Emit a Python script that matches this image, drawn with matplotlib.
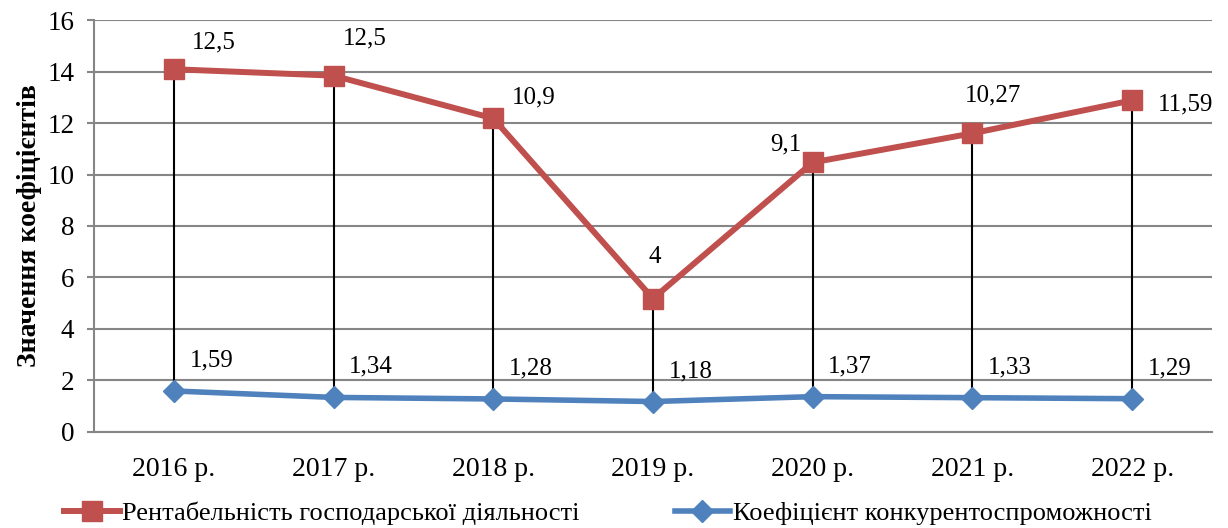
import numpy as np
import matplotlib
matplotlib.use("Agg")
import matplotlib.pyplot as plt

years = ["2016 р.", "2017 р.", "2018 р.", "2019 р.", "2020 р.", "2021 р.", "2022 р."]
profitability = [12.5, 12.5, 10.9, 4, 9.1, 10.27, 11.59]
competitiveness = [1.59, 1.34, 1.28, 1.18, 1.37, 1.33, 1.29]
profit_labels = ["12,5", "12,5", "10,9", "4", "9,1", "10,27", "11,59"]
comp_labels = ["1,59", "1,34", "1,28", "1,18", "1,37", "1,33", "1,29"]

# label offsets in pixels (dx, dy) for the red series, set by hand
red_offsets = [(40, 27), (31, 37), (40, 21), (2, 42), (-27, 18), (21, 38), (53, -4)]

RED = "#C0504D"
BLUE = "#4F81BD"
GRID = "#868686"

plt.rcParams["font.family"] = ["Liberation Serif", "DejaVu Serif"]

fig = plt.figure(figsize=(12.28, 5.28), dpi=100)
ax = fig.add_axes([0.0765, 0.182, 0.9105, 0.780])

x = np.arange(len(years))
comp = np.array(competitiveness)
stacked = comp + np.array(profitability)  # stacked line chart

ax.vlines(x, comp, stacked, colors="black", linewidth=1.5, zorder=2)
ax.plot(x, stacked, color=RED, linewidth=4.3, marker="s", markersize=14,
        label="Рентабельність господарської діяльності", zorder=3)
ax.plot(x, comp, color=BLUE, linewidth=4, marker="D", markersize=11,
        label="Коефіцієнт конкурентоспроможності", zorder=3)

for xi, yi, txt, (dx, dy) in zip(x, stacked, profit_labels, red_offsets):
    ax.annotate(txt, (xi, yi), xytext=(dx * 0.72, dy * 0.72), textcoords="offset points",
                ha="center", va="center", fontsize=18)
for xi, yi, txt in zip(x, comp, comp_labels):
    ax.annotate(txt, (xi, yi), xytext=(27, 22), textcoords="offset points",
                ha="center", va="center", fontsize=18)

ax.set_xlim(-0.5, len(years) - 0.5)
ax.set_ylim(0, 16)
ax.set_yticks(np.arange(0, 17, 2))
ax.set_xticks(x)
ax.set_xticklabels(years)
ax.tick_params(axis="x", length=0, pad=18, labelsize=20)
ax.tick_params(axis="y", length=5, color=GRID, width=1.5, labelsize=19.5, pad=9)

ax.grid(axis="y", color=GRID, linewidth=1.5)
ax.set_axisbelow(True)
for side in ("top", "right"):
    ax.spines[side].set_visible(False)
for side in ("left", "bottom"):
    ax.spines[side].set_color(GRID)
    ax.spines[side].set_linewidth(1.5)

ax.set_ylabel("Значення коефіцієнтів", fontsize=20, fontweight="bold", labelpad=4)

fig.legend(loc="lower center", bbox_to_anchor=(0.495, -0.04), ncol=2, frameon=False,
           fontsize=19, handlelength=2.1, handletextpad=0.1, columnspacing=3.6)

fig.savefig("out.png", dpi=100)
